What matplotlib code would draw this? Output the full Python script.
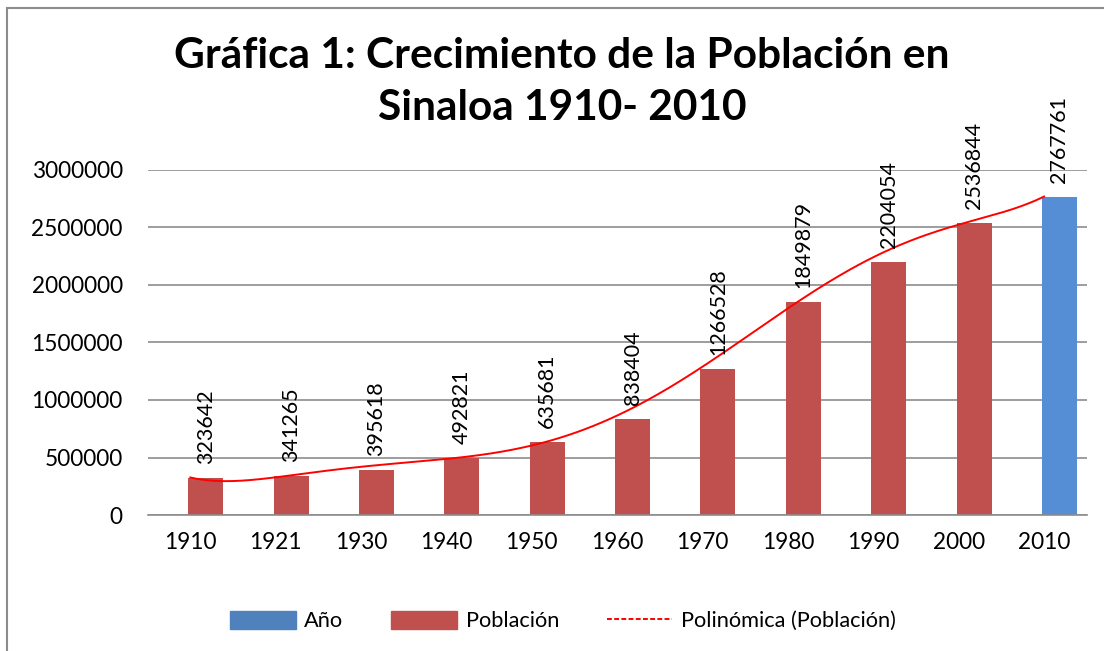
import numpy as np
import matplotlib.pyplot as plt
from matplotlib.patches import Patch, Rectangle
from matplotlib.lines import Line2D

years = ['1910', '1921', '1930', '1940', '1950', '1960', '1970', '1980', '1990', '2000', '2010']
poblacion = [323642, 341265, 395618, 492821, 635681, 838404, 1266528, 1849879, 2204054, 2536844, 2767761]
bar_colors = ['#C0504D'] * 10 + ['#558ED5']
trend_degree = 6

plt.rcParams['font.family'] = ['Lato', 'DejaVu Sans']

fig = plt.figure(figsize=(11.04, 6.51), dpi=100)
fig.patches.append(Rectangle((7 / 1104, -0.1), 1.2, 1 - 8 / 651 + 0.1, transform=fig.transFigure,
                             fill=False, edgecolor='#8c8c8c', linewidth=1.5))

ax = fig.add_axes([147.7 / 1104, 1 - 515 / 651, 939 / 1104, 345 / 651])

x = np.arange(len(years))
offset = 0.18
ax.bar(x + offset, poblacion, width=0.41, color=bar_colors, zorder=2)

# polynomial trendline over category positions (Excel uses 1..n)
coef = np.polyfit(x + 1, poblacion, trend_degree)
xs = np.linspace(0, len(years) - 1, 300)
ax.plot(xs, np.polyval(coef, xs + 1), color='#FF0000', linewidth=1.4, zorder=3)

for xi, v in zip(x, poblacion):
    ax.annotate(str(v), (xi + offset, v), xytext=(0, 10), textcoords='offset points',
                rotation=90, ha='center', va='bottom', fontsize=15.5, color='black')

ax.set_xlim(-0.5, len(years) - 0.5)
ax.set_ylim(0, 3000000)
ax.set_yticks(np.arange(0, 3000001, 500000))
ax.set_yticklabels([str(v) for v in range(0, 3000001, 500000)])
ax.set_xticks(x)
ax.set_xticklabels(years)
ax.tick_params(axis='both', length=0, labelsize=16.3)
ax.tick_params(axis='y', pad=18)
ax.tick_params(axis='x', pad=12)
ax.grid(axis='y', color='#8c8c8c', linewidth=1.2, zorder=0)
ax.set_axisbelow(True)
for s in ['top', 'right', 'left']:
    ax.spines[s].set_visible(False)
ax.spines['bottom'].set_color('#8c8c8c')
ax.spines['bottom'].set_linewidth(1.2)

fig.text(562 / 1104, 1 - 56 / 651, 'Gráfica 1: Crecimiento de la Población en', ha='center', va='center',
         fontsize=30.5, fontweight='bold')
fig.text(562 / 1104, 1 - 108 / 651, 'Sinaloa 1910- 2010', ha='center', va='center',
         fontsize=30.5, fontweight='bold')

handles = [Patch(color='#4F81BD'), Patch(color='#C0504D'),
           Line2D([], [], color='#FF0000', linewidth=1.4, dashes=(2.5, 1.2))]
fig.legend(handles, ['Año', 'Población', 'Polinómica (Población)'], loc='center',
           bbox_to_anchor=(563 / 1104, 1 - 621 / 651), ncol=3, frameon=False, fontsize=15.7,
           handlelength=3.0, handleheight=0.9, columnspacing=2.2, handletextpad=0.4)

fig.savefig('out.png', dpi=100)
